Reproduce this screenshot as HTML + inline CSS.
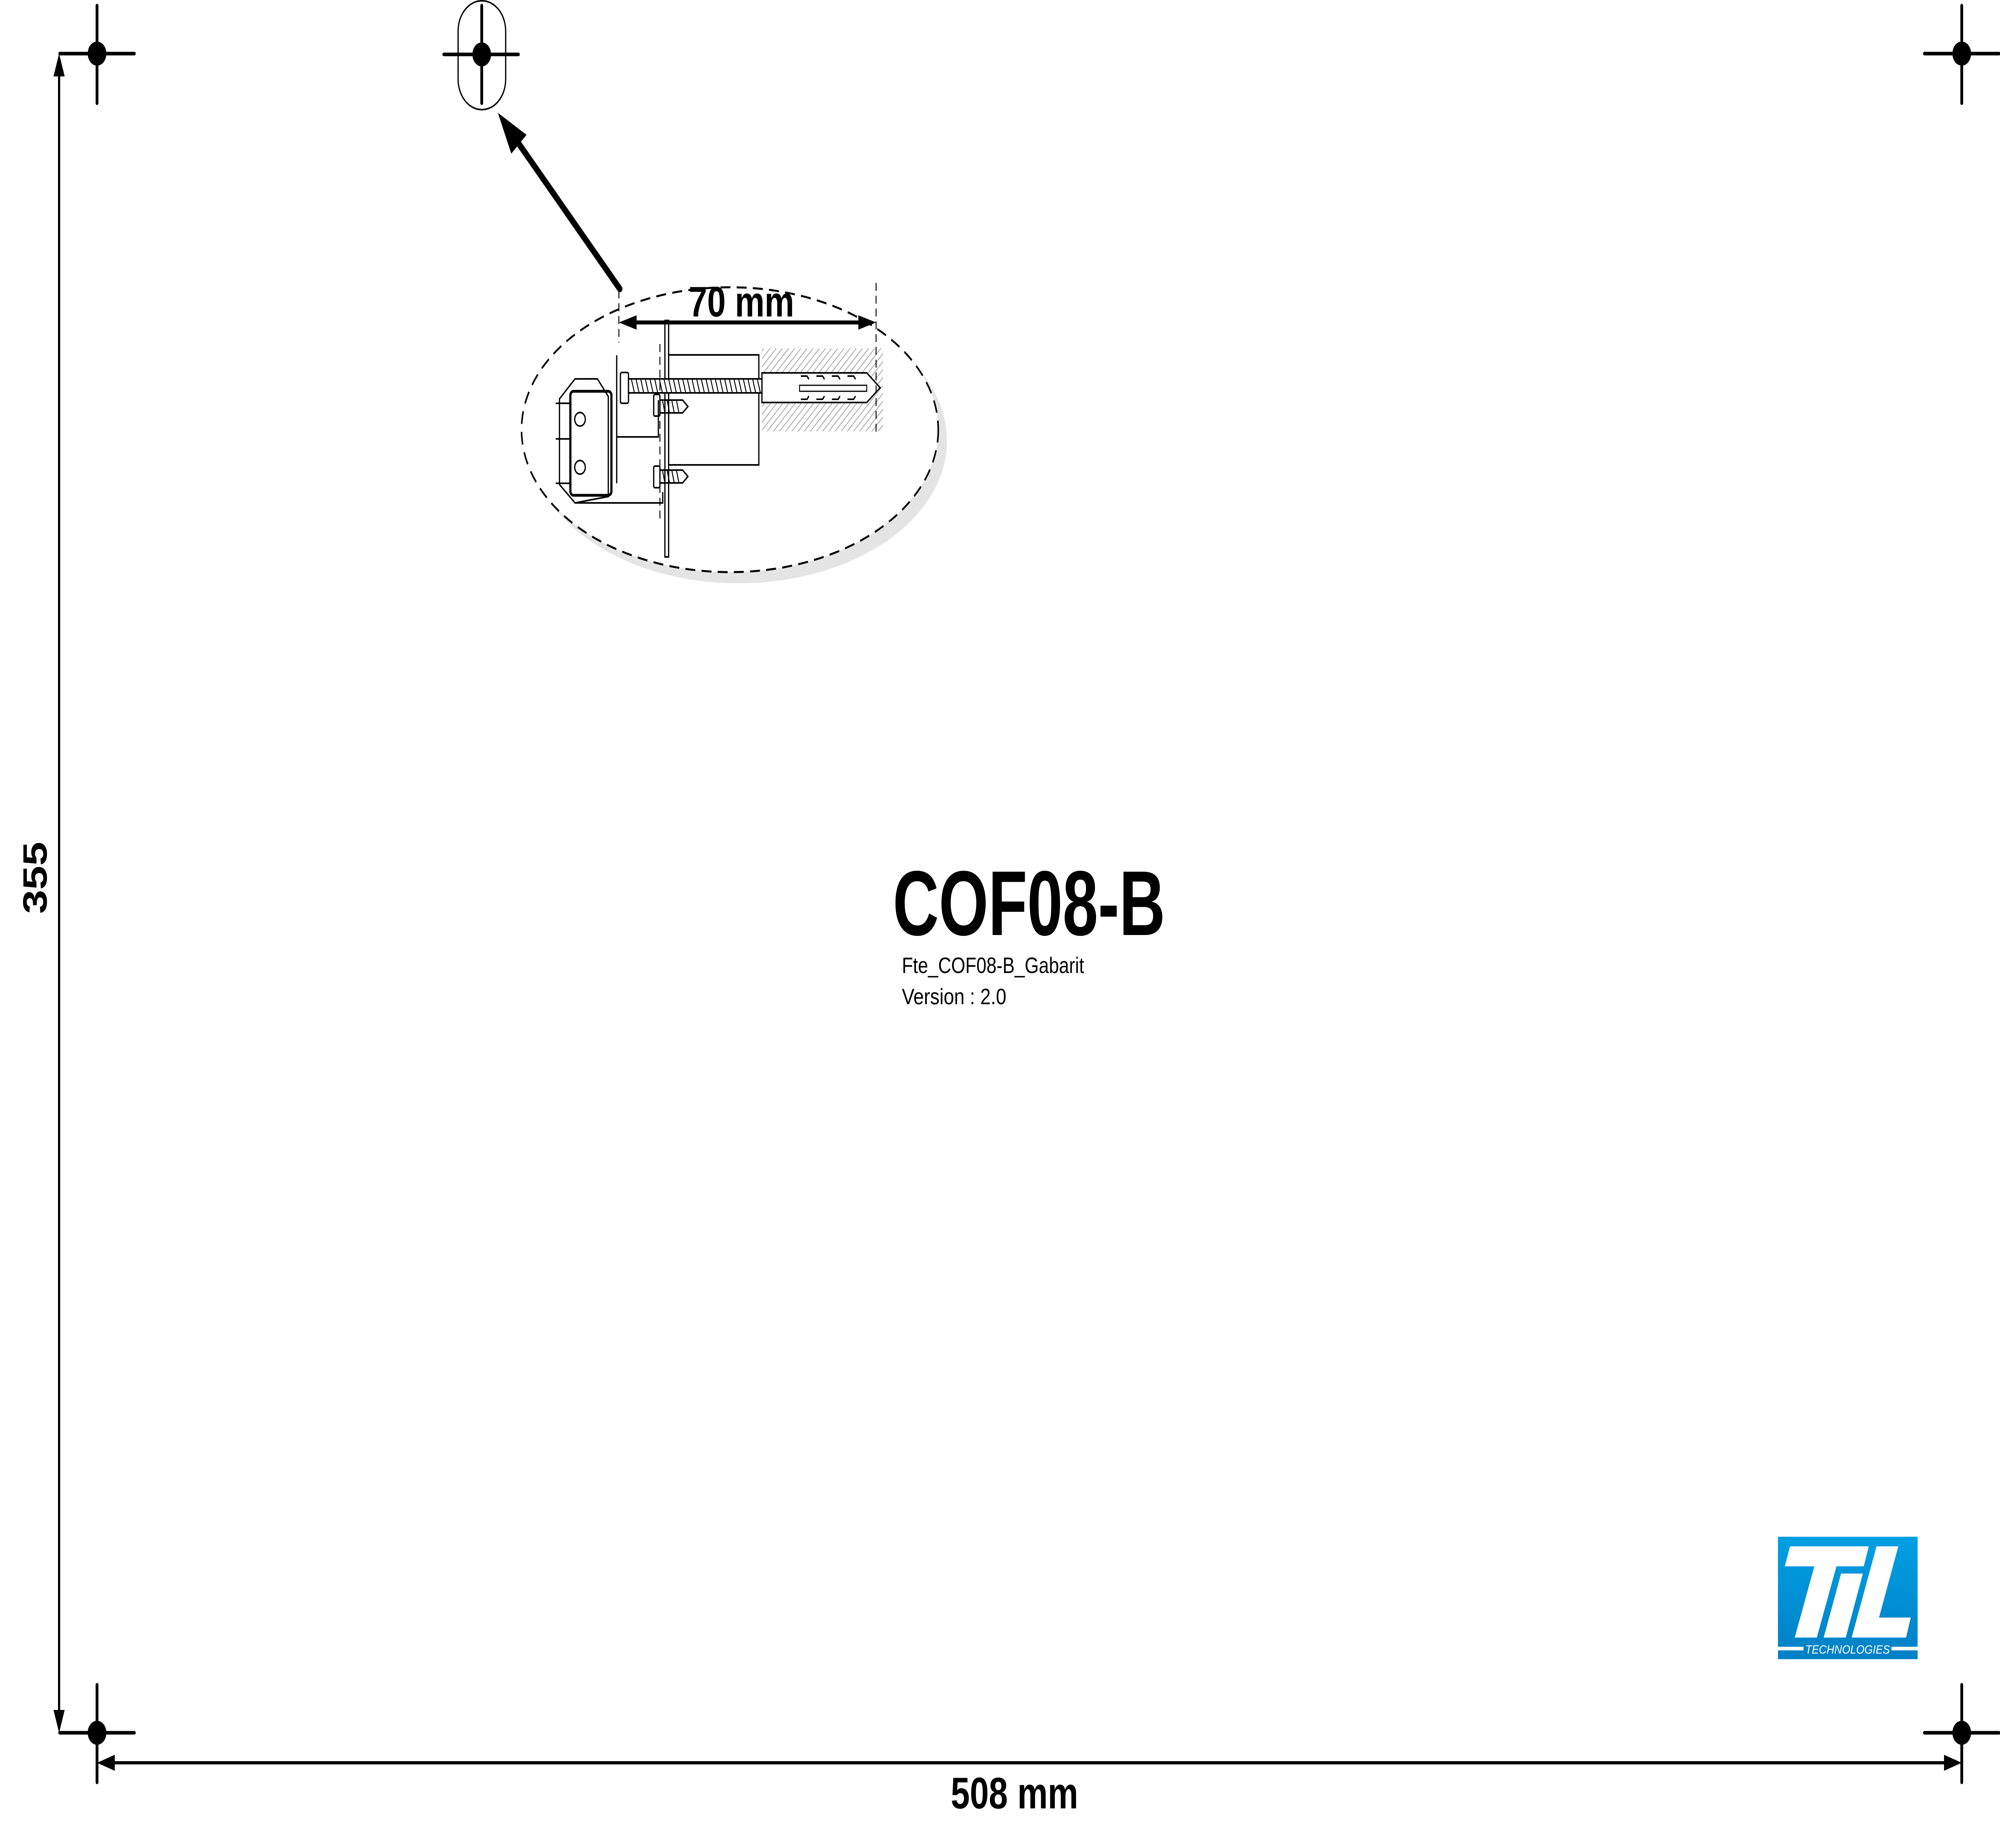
<!DOCTYPE html>
<html><head><meta charset="utf-8"><style>html,body{margin:0;padding:0;background:#fff;overflow:hidden;width:100%;height:100%}svg{display:block;width:100vw;height:100vh}</style></head>
<body>
<svg xmlns="http://www.w3.org/2000/svg" viewBox="0 0 6431 4619" preserveAspectRatio="none">
<defs>
<pattern id="hatch" width="14" height="14" patternUnits="userSpaceOnUse" patternTransform="rotate(45)">
<rect width="14" height="14" fill="#fff"/><line x1="0" y1="0" x2="0" y2="14" stroke="#777" stroke-width="3"/>
</pattern>
<linearGradient id="lg" x1="0" y1="0" x2="0" y2="1"><stop offset="0" stop-color="#009fe3"/><stop offset="1" stop-color="#0080c6"/></linearGradient>
</defs>
<g stroke="#000" stroke-linecap="round" stroke-width="9" fill="none">
<path d="M312 14V258M192 134H432"/>
<path d="M6308 14V258M6188 134H6428"/>
<path d="M312 4211V4455M192 4331H432"/>
<path d="M6308 4211V4455M6188 4331H6428"/>
<path d="M1549 14V258M1427 136H1667"/>
</g>
<g fill="#000">
<circle cx="312" cy="134" r="30"/><circle cx="6308" cy="134" r="30"/>
<circle cx="312" cy="4331" r="30"/><circle cx="6308" cy="4331" r="30"/>
<circle cx="1549" cy="136" r="30"/>
</g>
<rect x="1473" y="2" width="153" height="272" rx="76" ry="76" fill="none" stroke="#000" stroke-width="4"/>
<line x1="1993" y1="722" x2="1660" y2="350" stroke="#000" stroke-width="17" stroke-linecap="round"/>
<polygon points="1601,282 1693,337 1644,384" fill="#000"/>
<line x1="190" y1="170" x2="190" y2="4300" stroke="#000" stroke-width="7"/>
<polygon points="190,134 172,191 208,191" fill="#000"/>
<polygon points="190,4331 172,4274 208,4274" fill="#000"/>
<line x1="340" y1="4406" x2="6280" y2="4406" stroke="#000" stroke-width="8"/>
<polygon points="312,4406 369,4386 369,4426" fill="#000"/>
<polygon points="6308,4406 6251,4386 6251,4426" fill="#000"/>
<text x="0" y="0" transform="translate(150,2194) rotate(-90)" text-anchor="middle" font-family="Liberation Sans, sans-serif" font-weight="bold" font-size="108">355</text>
<text x="3262" y="4520" text-anchor="middle" font-family="Liberation Sans, sans-serif" font-weight="bold" font-size="110">508 mm</text>
<text x="0" y="0" transform="translate(2871,2337) scale(0.89,1)" font-family="Liberation Sans, sans-serif" font-weight="bold" font-size="230">COF08-B</text>
<text x="2900" y="2432" font-family="Liberation Sans, sans-serif" font-size="56" textLength="586" lengthAdjust="spacingAndGlyphs">Fte_COF08-B_Gabarit</text>
<text x="2900" y="2510" font-family="Liberation Sans, sans-serif" font-size="56" textLength="336" lengthAdjust="spacingAndGlyphs">Version : 2.0</text>
<ellipse cx="2375" cy="1102" rx="670" ry="356" fill="#e4e4e4"/>
<ellipse cx="2347" cy="1074" rx="670" ry="356" fill="#fff" stroke="#000" stroke-width="5" stroke-dasharray="32,20"/>
<rect x="2450" y="871" width="389" height="207" fill="url(#hatch)"/>
<polygon points="2450,932 2787,932 2830,969 2787,1006 2450,1006" fill="#fff" stroke="#000" stroke-width="4"/>
<rect x="2571" y="963" width="216" height="15" fill="#fff" stroke="#000" stroke-width="3"/>
<g stroke="#000" stroke-width="4" fill="none">
<path d="M2575 940h20l6 8M2625 940h20l6 8M2675 940h20l6 8M2725 940h20l6 8M2575 998h20l6-8M2625 998h20l6-8M2675 998h20l6-8M2725 998h20l6-8"/>
<rect x="2150" y="887" width="290" height="275"/>
<rect x="2138" y="801" width="12" height="591"/>
<rect x="1995" y="931" width="26" height="77" rx="5"/>
<rect x="2021" y="947" width="429" height="35" fill="#fff"/>
<path d="M1983 888V1208M1983 1092H2117V1000M1849 1257H2131V1230"/>
<path d="M2122 860V1300" stroke-dasharray="20,12" stroke-width="3"/>
<path d="M2817 707V1089M1990 726V856" stroke-dasharray="20,12" stroke-width="3"/>
<rect x="2102" y="986" width="20" height="54" rx="4"/>
<path d="M2122 1000H2195L2212 1016L2195 1032H2122"/>
<rect x="2102" y="1165" width="20" height="54" rx="4"/>
<path d="M2122 1175H2195L2212 1191L2195 1207H2122"/>
<polygon points="1799,997 1849,947 1921,947 1956,991 1956,1241 1849,1257 1799,1211"/>
<rect x="1834" y="978" width="132" height="260" rx="10" stroke-width="7"/>
<circle cx="1865" cy="1048" r="17"/><circle cx="1865" cy="1168" r="17"/>
<path d="M1787 1008H1834M1787 1097H1834M1787 1208H1834"/>
</g>
<g stroke="#000" stroke-width="3">
<path d="M2030 947l10 35M2045 947l10 35M2060 947l10 35M2075 947l10 35M2090 947l10 35M2105 947l10 35M2120 947l10 35M2135 947l10 35M2150 947l10 35M2165 947l10 35M2180 947l10 35M2195 947l10 35M2210 947l10 35M2225 947l10 35M2240 947l10 35M2255 947l10 35M2270 947l10 35M2285 947l10 35M2300 947l10 35M2315 947l10 35M2330 947l10 35M2345 947l10 35M2360 947l10 35M2375 947l10 35M2390 947l10 35M2405 947l10 35M2420 947l10 35M2435 947l10 35"/>
<path d="M2130 1000l8 32M2145 1000l8 32M2160 1000l8 32M2175 1000l8 32M2130 1175l8 32M2145 1175l8 32M2160 1175l8 32M2175 1175l8 32"/>
</g>
<line x1="2030" y1="806" x2="2780" y2="806" stroke="#000" stroke-width="10"/>
<polygon points="1990,806 2047,788 2047,824" fill="#000"/>
<polygon points="2817,806 2760,788 2760,824" fill="#000"/>
<text x="2384" y="791" text-anchor="middle" font-family="Liberation Sans, sans-serif" font-weight="bold" font-size="107">70 mm</text>
<rect x="5717" y="3841" width="449" height="306" fill="url(#lg)"/>
<g fill="#fff">
<polygon points="5756,3865 6009,3865 5993,3915 5905,3915 5842,4093 5771,4093 5834,3915 5739,3915"/>
<polygon points="5920,3933 5990,3933 5935,4093 5864,4093"/>
<polygon points="6034,3865 6104,3865 6042,4043 6144,4043 6129,4093 5954,4093"/>
<rect x="5717" y="4116" width="82" height="9"/><rect x="6082" y="4116" width="84" height="9"/>
</g>
<text x="5805" y="4133" font-family="Liberation Sans, sans-serif" font-style="italic" font-size="30" fill="#fff" textLength="272" lengthAdjust="spacingAndGlyphs">TECHNOLOGIES</text>
</svg>
</body></html>
